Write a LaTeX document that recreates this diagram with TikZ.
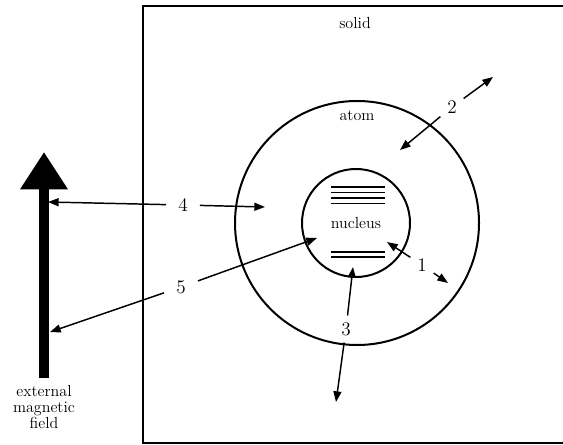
\documentclass[tikz,border=0pt]{standalone}
\usetikzlibrary{arrows.meta}
\tikzset{ray edge/.style={-{Triangle[length=8pt,width=6pt]}, line width=1.1pt}}
\tikzset{shell ring/.style={circle, draw=black, line width=1.5pt, inner sep=0pt}}
\tikzset{tag label/.style={font=\Large, inner sep=5pt}}
\tikzset{plain text/.style={font=\large, inner sep=1pt, align=center}}
\tikzset{field arrow/.style={-{Triangle[length=28pt,width=34pt]}, line width=6.8pt}}
\tikzset{level line/.style={line width=1.1pt}}

\begin{document}
\begin{tikzpicture}[x=0.75pt,y=-0.75pt]
	\useasboundingbox (0,0) rectangle (563,445);

	% the solid (box open on the right)
	\draw[line width=1.5pt] (575,6) -| (143,443) -- (575,443);
	\node[plain text] (solid) at (355,23) {solid};

	% atom and nucleus
	\node[shell ring, minimum size=183pt] (atom) at (357,223) {};
	\node[shell ring, minimum size=81pt, font=\large] (nucleus) at (356,223) {nucleus};
	\node[plain text] (atomtxt) at (357,116) {atom};

	% energy levels
	\foreach \yy in {187,192.5,198,203.5}
		\draw[level line] (331,\yy) -- (385,\yy);
	\foreach \yy in {252,257}
		\draw[level line] (331,\yy) -- (385,\yy);

	% external field
	\coordinate (fieldbot) at (44,378);
	\coordinate (fieldtop) at (44,152);
	\draw[field arrow] (fieldbot) -- (fieldtop);
	\node[plain text, anchor=north] (fieldtxt) at (44,384) {external\\[-2pt]magnetic\\[-2pt]field};

	% transitions
	\coordinate (a1) at (387,242);  \coordinate (b1) at (448,283);
	\coordinate (a2) at (400,150);  \coordinate (b2) at (493,77);
	\coordinate (a3) at (353,267);  \coordinate (b3) at (336,402);
	\coordinate (a4) at (48,202);   \coordinate (b4) at (265,207);
	\coordinate (a5) at (50,332);   \coordinate (b5) at (317,238);

	\node[tag label] (t1) at (422,265) {1};
	\node[tag label] (t2) at (452,107) {2};
	\node[tag label] (t3) at (346,329) {3};
	\node[tag label, inner sep=9pt] (t4) at (183,205) {4};
	\node[tag label, inner sep=9pt] (t5) at (181,287) {5};

	\foreach \k in {1,...,5} {
		\draw[ray edge] (t\k) -- (a\k);
		\draw[ray edge] (t\k) -- (b\k);
	}
\end{tikzpicture}
\end{document}
